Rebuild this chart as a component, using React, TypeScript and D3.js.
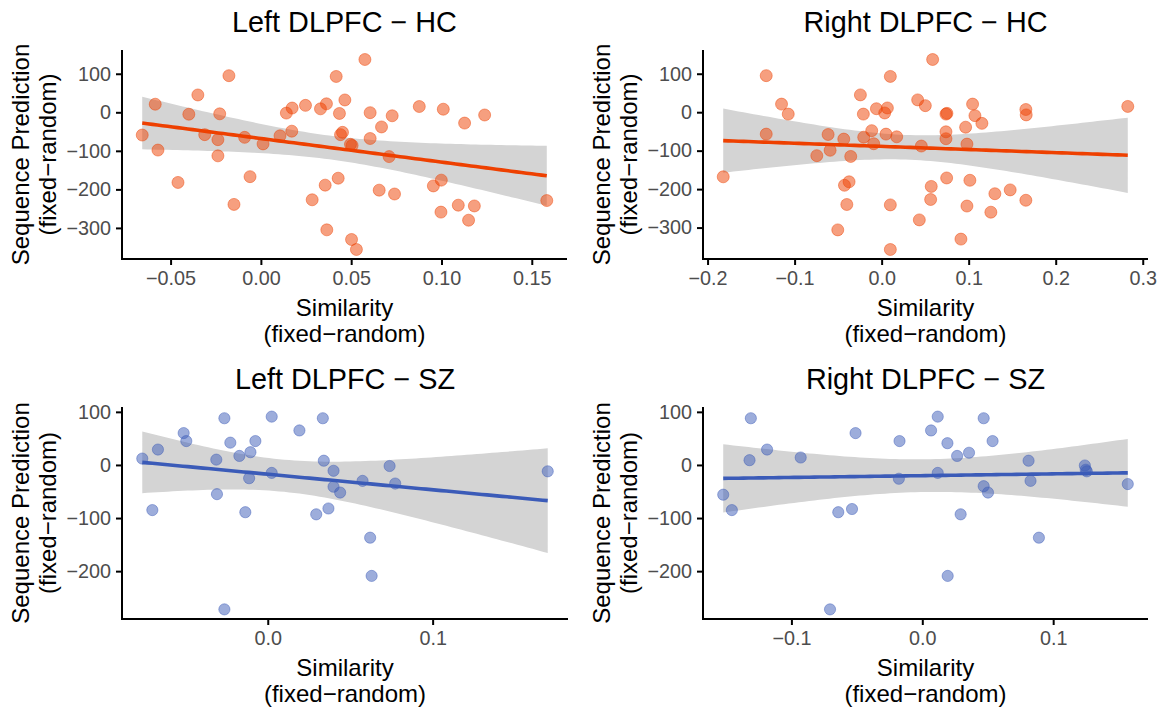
import React, { useEffect, useRef } from "react";
import * as d3 from "d3";

// Left DLPFC - HC
const leftHcX = [
  -0.0657, -0.0585, -0.057, -0.0459, -0.0349, -0.0399, -0.0311, -0.0238, -0.0228, -0.0238,
  -0.0177, -0.0149, -0.009, -0.006, 0.0012, 0.0106, 0.0141, 0.0173, 0.0171, 0.0247,
  0.0284, 0.033, 0.0363, 0.0356, 0.0365, 0.0417, 0.0428, 0.0435, 0.0465, 0.0441,
  0.0452, 0.0496, 0.0505, 0.0502, 0.0529, 0.0576, 0.0605, 0.0605, 0.0655, 0.0668,
  0.071, 0.0727, 0.074, 0.0877, 0.0955, 0.0999, 0.101, 0.0997, 0.1093, 0.1128,
  0.115, 0.1182, 0.1239, 0.1583,
];
const leftHcY = [
  -59, 21, -98, -182, 45, -5, -58, -71, -4, -113,
  95, -239, -65, -167, -82, -61, -2, 11, -49, 18,
  -227, 9, 22, -189, -305, 93, -171, -3, 32, -58,
  -52, -83, -86, -330, -356, 137, -1, -68, -202, -38,
  -115, -9, -212, 15, -191, -176, 8, -259, -241, -28,
  -280, -243, -7, -229,
];

// Right DLPFC - HC
const rightHcX = [
  -0.182, -0.1326, -0.1326, -0.115, -0.1073, -0.0745, -0.0615, -0.0592, -0.0504, -0.0435,
  -0.0427, -0.0374, -0.04, -0.0355, -0.0244, -0.021, -0.0206, -0.0114, -0.0091, -0.006,
  0.0035, 0.0066, 0.005, 0.01, 0.01, 0.01, 0.0173, 0.0414, 0.0433, 0.0456,
  0.0502, 0.057, 0.0563, 0.0586, 0.0739, 0.075, 0.0739, 0.0739, 0.0747, 0.0911,
  0.0965, 0.098, 0.098, 0.1014, 0.1045, 0.1072, 0.1152, 0.1255, 0.1301, 0.1477,
  0.1657, 0.1661, 0.1657, 0.2828,
];
const rightHcY = [
  -168, 95, -57, 21, -5, -113, -58, -99, -306, -70,
  -190, -181, -240, -115, 45, -5, -65, -48, -82, 9,
  -2, 11, -57, 93, -241, -357, -64, 32, -280, -88,
  17, -193, -227, 137, -5, -3, -51, -69, -171, -330,
  -39, -83, -244, -177, 21, -9, -29, -260, -212, -202,
  7, -7, -229, 15,
];

// Left DLPFC - SZ
const leftSzX = [
  -0.0761, -0.07, -0.0666, -0.051, -0.0494, -0.0312, -0.0308, -0.0263, -0.0263, -0.0227,
  -0.0172, -0.0136, -0.0113, -0.0105, -0.0075, 0.0024, 0.0024, 0.0192, 0.0294, 0.0334,
  0.034, 0.0368, 0.0399, 0.0399, 0.0439, 0.0575, 0.0621, 0.063, 0.0739, 0.0773,
  0.1698,
];
const leftSzY = [
  12, -85, 29, 60, 45, 10, -55, 88, -272, 42,
  17, -89, -25, 24, 45, 91, -15, 65, -93, 88,
  8, -82, -11, -41, -52, -30, -137, -209, -2, -35,
  -12,
];

// Right DLPFC - SZ
const rightSzX = [
  -0.1521, -0.1455, -0.132, -0.131, -0.1186, -0.0929, -0.0705, -0.0642, -0.0537, -0.051,
  -0.0179, -0.0174, 0.0067, 0.0118, 0.0118, 0.0192, 0.0194, 0.0266, 0.0293, 0.0357,
  0.0469, 0.0469, 0.0502, 0.0537, 0.0812, 0.0827, 0.0891, 0.1242, 0.1257, 0.1249,
  0.157,
];
const rightSzY = [
  -56, -85, 9, 88, 29, 14, -272, -89, -83, 60,
  -26, 45, 65, 91, -15, 41, -209, 17, -93, 23,
  88, -40, -52, 45, 8, -30, -137, -1, -12, -9,
  -36,
];

const leftHcXTicks = [-0.05, 0, 0.05, 0.1, 0.15];
const rightHcXTicks = [-0.2, -0.1, 0, 0.1, 0.2, 0.3];
const leftSzXTicks = [0, 0.1];
const rightSzXTicks = [-0.1, 0, 0.1];
const hcYTicks = [-300, -200, -100, 0, 100];
const szYTicks = [-200, -100, 0, 100];

const ORANGE = "#EE4000";
const BLUE = "#3B5BB8";
const FONT = "'Liberation Sans', Arial, Helvetica, sans-serif";

// t quantile (0.975) via Cornish-Fisher expansion
function tQuantile(df) {
  const z = 1.959964;
  return (
    z +
    (z ** 3 + z) / (4 * df) +
    (5 * z ** 5 + 16 * z ** 3 + 3 * z) / (96 * df * df)
  );
}

function ScatterPanel({ title, xs, ys, xTicks, yTicks, xFormat, color, radius, box }) {
  const ref = useRef(null);

  useEffect(() => {
    const g = d3.select(ref.current);
    g.selectAll("*").remove();

    const [x0, y0, x1, y1] = box;
    const xExt = d3.extent(xs);
    const yExt = d3.extent(ys);
    const xPad = (xExt[1] - xExt[0]) * 0.05;
    const yPad = (yExt[1] - yExt[0]) * 0.05;

    const x = d3.scaleLinear().domain([xExt[0] - xPad, xExt[1] + xPad]).range([x0, x1]);
    const y = d3.scaleLinear().domain([yExt[0] - yPad, yExt[1] + yPad]).range([y1, y0]);

    // linear fit + 95% confidence band
    const n = xs.length;
    const mx = d3.mean(xs);
    const my = d3.mean(ys);
    const sxx = d3.sum(xs, (v) => (v - mx) ** 2);
    const sxy = d3.sum(xs.map((v, i) => (v - mx) * (ys[i] - my)));
    const b = sxy / sxx;
    const a = my - b * mx;
    const rss = d3.sum(xs.map((v, i) => (ys[i] - a - b * v) ** 2));
    const s = Math.sqrt(rss / (n - 2));
    const t = tQuantile(n - 2);

    const grid = d3.range(81).map((i) => xExt[0] + ((xExt[1] - xExt[0]) * i) / 80);
    const band = grid.map((v) => {
      const fit = a + b * v;
      const se = s * Math.sqrt(1 / n + (v - mx) ** 2 / sxx);
      return { v, fit, lo: fit - t * se, hi: fit + t * se };
    });

    g.append("path")
      .datum(band)
      .attr("fill", "#D4D4D4")
      .attr("d", d3.area().x((d) => x(d.v)).y0((d) => y(d.lo)).y1((d) => y(d.hi)));

    g.append("path")
      .datum(band)
      .attr("fill", "none")
      .attr("stroke", color)
      .attr("stroke-width", 3.6)
      .attr("d", d3.line().x((d) => x(d.v)).y((d) => y(d.fit)));

    g.selectAll("circle")
      .data(xs)
      .enter()
      .append("circle")
      .attr("cx", (d) => x(d))
      .attr("cy", (_, i) => y(ys[i]))
      .attr("r", radius)
      .attr("fill", color)
      .attr("fill-opacity", 0.5)
      .attr("stroke", color)
      .attr("stroke-opacity", 0.45)
      .attr("stroke-width", 1);

    // axes
    const xAxis = g.append("g")
      .attr("transform", `translate(0,${y1})`)
      .call(d3.axisBottom(x).tickValues(xTicks).tickFormat(d3.format(xFormat)).tickSize(6).tickSizeOuter(0).tickPadding(5.5));
    const yAxis = g.append("g")
      .attr("transform", `translate(${x0},0)`)
      .call(d3.axisLeft(y).tickValues(yTicks).tickFormat(d3.format("d")).tickSize(6).tickSizeOuter(0).tickPadding(5));

    [xAxis, yAxis].forEach((ax) => {
      ax.select(".domain").attr("stroke", "#000").attr("stroke-width", 2);
      ax.selectAll(".tick line").attr("stroke", "#000").attr("stroke-width", 2);
      ax.selectAll(".tick text")
        .attr("fill", "#4D4D4D")
        .attr("font-size", 19.8)
        .attr("font-family", FONT);
    });
    // make the two axis lines meet at the corner
    xAxis.select(".domain").attr("d", `M${x0 - 1},0H${x1}`);
    yAxis.select(".domain").attr("d", `M0,${y0}V${y1 + 1}`);

    const cx = (x0 + x1) / 2;
    const cy = (y0 + y1) / 2;

    g.append("text")
      .attr("x", cx)
      .attr("y", y0 - 18)
      .attr("text-anchor", "middle")
      .attr("font-size", 28.8)
      .attr("font-family", FONT)
      .attr("fill", "#000")
      .text(title);

    const xLab = g.append("text")
      .attr("text-anchor", "middle")
      .attr("font-size", 24)
      .attr("font-family", FONT)
      .attr("fill", "#000");
    xLab.append("tspan").attr("x", cx).attr("y", y1 + 57).text("Similarity");
    xLab.append("tspan").attr("x", cx).attr("y", y1 + 83).text("(fixed\u2212random)");

    const yLab = g.append("text")
      .attr("transform", `rotate(-90)`)
      .attr("text-anchor", "middle")
      .attr("font-size", 24)
      .attr("font-family", FONT)
      .attr("fill", "#000");
    yLab.append("tspan").attr("x", -cy).attr("y", x0 - 93).text("Sequence Prediction");
    yLab.append("tspan").attr("x", -cy).attr("y", x0 - 66).text("(fixed\u2212random)");
  }, [title, xs, ys]);

  return <g ref={ref}></g>;
}

export default function App() {
  return (
    <svg
      width={1170}
      height={709}
      style={{ position: "absolute", left: 0, top: 0, display: "block", background: "#fff" }}
    >
      <rect width={1170} height={709} fill="#fff" />
      <ScatterPanel
        title={"Left DLPFC \u2212 HC"}
        xs={leftHcX}
        ys={leftHcY}
        xTicks={leftHcXTicks}
        yTicks={hcYTicks}
        xFormat=".2f"
        color={ORANGE}
        radius={6}
        box={[122, 50, 567, 259]}
      />
      <ScatterPanel
        title={"Right DLPFC \u2212 HC"}
        xs={rightHcX}
        ys={rightHcY}
        xTicks={rightHcXTicks}
        yTicks={hcYTicks}
        xFormat=".1f"
        color={ORANGE}
        radius={6}
        box={[703, 50, 1148, 259]}
      />
      <ScatterPanel
        title={"Left DLPFC \u2212 SZ"}
        xs={leftSzX}
        ys={leftSzY}
        xTicks={leftSzXTicks}
        yTicks={szYTicks}
        xFormat=".1f"
        color={BLUE}
        radius={5.6}
        box={[122, 407, 568, 619]}
      />
      <ScatterPanel
        title={"Right DLPFC \u2212 SZ"}
        xs={rightSzX}
        ys={rightSzY}
        xTicks={rightSzXTicks}
        yTicks={szYTicks}
        xFormat=".1f"
        color={BLUE}
        radius={5.6}
        box={[703, 407, 1148, 619]}
      />
    </svg>
  );
}
